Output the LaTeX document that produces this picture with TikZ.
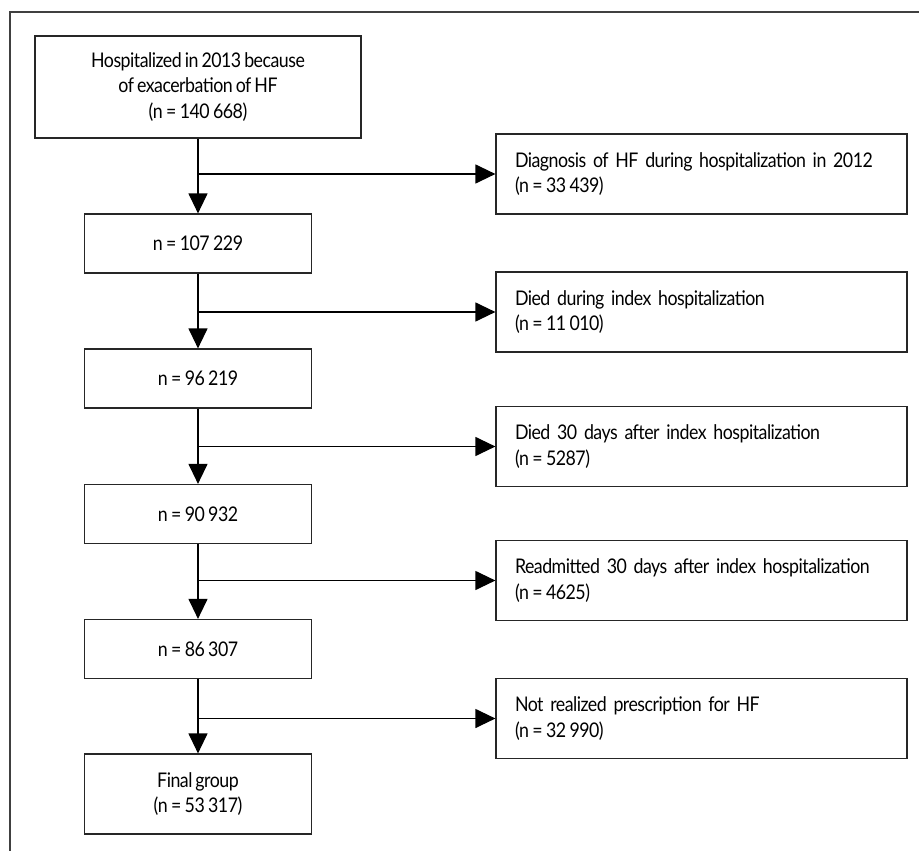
\documentclass[tikz,border=0pt]{standalone}
\usepackage{fontspec}
\setmainfont{Lato}[FakeStretch=0.88,LetterSpace=-2.5,WordSpace=0.75]
\usetikzlibrary{arrows.meta}

\begin{document}
\begin{tikzpicture}[x=1pt,y=-1pt]
\tikzstyle{txt}=[font=\fontsize{20.2}{25.5}\selectfont]
\tikzstyle{mainbox}=[txt,draw=black!85,line width=1.2pt,minimum width=227pt,minimum height=59pt,align=center]
\tikzstyle{sidebox}=[txt,draw=black!85,line width=1.2pt,minimum height=80pt,text width=373pt,inner xsep=19pt,align=left]
\tikzstyle{flow}=[line width=1.2pt,-{Triangle[length=20pt,width=19pt]}]

\useasboundingbox (0,0) rectangle (919,851);
\draw[line width=1.2pt,black!75] (919,12) -- (10,12) -- (10,851);

\node[mainbox,minimum width=326pt,minimum height=102pt] (hosp) at (198,87) {Hospitalized in 2013 because\\of exacerbation of HF\\(n\,=\,140\,668)};
\node[mainbox] (n1) at (198,243.5) {n\,=\,107\,229};
\node[mainbox] (n2) at (198,378.5) {n\,=\,96\,219};
\node[mainbox] (n3) at (198,514) {n\,=\,90\,932};
\node[mainbox] (n4) at (198,649) {n\,=\,86\,307};
\node[mainbox,minimum height=80pt] (final) at (198,794) {Final group\\(n\,=\,53\,317)};

\node[sidebox] (prev) at (701.5,174) {Diagnosis of HF during hospitalization in 2012\\(n\,=\,33\,439)};
\node[sidebox] (died) at (701.5,312) {Died during index hospitalization\\(n\,=\,11\,010)};
\node[sidebox] (died30) at (701.5,446.5) {Died 30 days after index hospitalization\\(n\,=\,5287)};
\node[sidebox] (readm) at (701.5,580.5) {Readmitted 30 days after index hospitalization\\(n\,=\,4625)};
\node[sidebox] (norx) at (701.5,718.5) {Not realized prescription for HF\\(n\,=\,32\,990)};

\draw[flow] (hosp) -- (n1);
\draw[flow] (n1) -- (n2);
\draw[flow] (n2) -- (n3);
\draw[flow] (n3) -- (n4);
\draw[flow] (n4) -- (final);

\draw[flow] (hosp.south |- prev.west) -- (prev.west);
\draw[flow] (n1.south |- died.west) -- (died.west);
\draw[flow] (n2.south |- died30.west) -- (died30.west);
\draw[flow] (n3.south |- readm.west) -- (readm.west);
\draw[flow] (n4.south |- norx.west) -- (norx.west);

\end{tikzpicture}
\end{document}
